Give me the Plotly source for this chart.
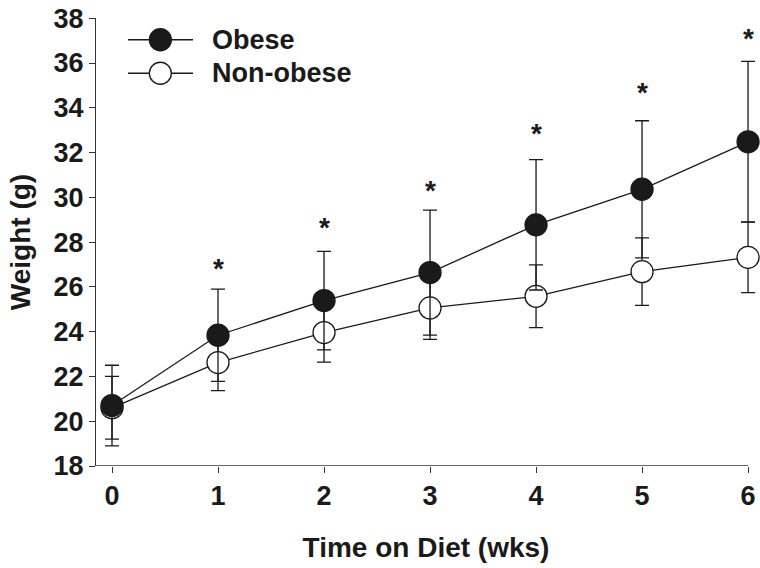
import plotly.graph_objects as go

weeks = [0, 1, 2, 3, 4, 5, 6]
obese_mean = [20.7, 23.84, 25.39, 26.64, 28.77, 30.36, 32.48]
obese_sd = [1.8, 2.06, 2.2, 2.79, 2.91, 3.06, 3.59]
nonobese_mean = [20.6, 22.62, 23.96, 25.06, 25.58, 26.68, 27.32]
nonobese_sd = [1.4, 1.25, 1.32, 1.4, 1.4, 1.51, 1.58]
star_weeks = [1, 2, 3, 4, 5, 6]
star_y = [26.87, 28.68, 30.36, 32.88, 34.73, 37.16]
y_ticks = [18, 20, 22, 24, 26, 28, 30, 32, 34, 36, 38]
series_names = ["Obese", "Non-obese"]

FONT = "Liberation Sans, Arial, sans-serif"
BLACK = "#1a1a1a"

fig = go.Figure()

# Non-obese first (drawn beneath), then obese on top
fig.add_trace(go.Scatter(
    x=weeks, y=nonobese_mean, mode="lines+markers", name=series_names[1],
    line=dict(color=BLACK, width=1.3),
    marker=dict(symbol="circle", size=22, color="white", line=dict(color=BLACK, width=1.3)),
    error_y=dict(type="data", array=nonobese_sd, symmetric=True, color=BLACK, thickness=1.3, width=7),
    cliponaxis=False, showlegend=False,
))
fig.add_trace(go.Scatter(
    x=weeks, y=obese_mean, mode="lines+markers", name=series_names[0],
    line=dict(color=BLACK, width=1.3),
    marker=dict(symbol="circle", size=22, color=BLACK, line=dict(color=BLACK, width=1.3)),
    error_y=dict(type="data", array=obese_sd, symmetric=True, color=BLACK, thickness=1.3, width=7),
    cliponaxis=False, showlegend=False,
))

# Significance asterisks
for xw, yv in zip(star_weeks, star_y):
    fig.add_annotation(x=xw, y=yv, xref="x", yref="y", text="*", showarrow=False,
                       font=dict(family=FONT, size=28, color=BLACK, weight="bold"),
                       yanchor="middle", xanchor="center", yshift=-1)

# Manual legend on an overlay axis (0..1 coordinates over the plot area)
legend_rows = [0.9515, 0.8767]
legend_fill = [BLACK, "white"]
for name, ly, fill in zip(series_names, legend_rows, legend_fill):
    fig.add_trace(go.Scatter(
        x=[0.0485, 0.147], y=[ly, ly], mode="lines", xaxis="x2", yaxis="y2",
        line=dict(color=BLACK, width=1.3), showlegend=False, hoverinfo="skip"))
    fig.add_trace(go.Scatter(
        x=[0.0975], y=[ly], mode="markers", xaxis="x2", yaxis="y2",
        marker=dict(symbol="circle", size=22, color=fill, line=dict(color=BLACK, width=1.3)),
        showlegend=False, hoverinfo="skip", cliponaxis=False))
    fig.add_annotation(x=0.1727, y=ly, xref="x2", yref="y2", text=name, showarrow=False,
                       xanchor="left", yanchor="middle",
                       font=dict(family=FONT, size=27, color=BLACK, weight="bold"))

# x-axis line drawn as a shape so it ends at week 6
fig.add_shape(type="line", xref="x", yref="y", x0=-0.151, x1=6, y0=18, y1=18,
              line=dict(color="#333333", width=1.3), layer="below")

fig.update_layout(
    width=760, height=568,
    margin=dict(l=96, r=4, t=12, b=102),
    plot_bgcolor="white", paper_bgcolor="white",
    font=dict(family=FONT, color=BLACK),
    xaxis=dict(
        range=[-0.151, 6.075], tickvals=weeks, ticks="outside", ticklen=6,
        tickwidth=1.2, tickcolor="#333333", showline=False, showgrid=False, zeroline=False,
        tickfont=dict(family=FONT, size=27, color=BLACK, weight="bold"),
        title=dict(text="Time on Diet (wks)", standoff=26,
                   font=dict(family=FONT, size=28, color=BLACK, weight="bold")),
    ),
    yaxis=dict(
        range=[18, 38.01], tickvals=y_ticks, ticks="outside", ticklen=6,
        tickwidth=1.2, tickcolor="#333333", showline=True, linecolor="#333333", linewidth=1.3,
        showgrid=False, zeroline=False, ticklabeloverflow="allow",
        tickfont=dict(family=FONT, size=27, color=BLACK, weight="bold"),
        title=dict(text="Weight (g)", standoff=14,
                   font=dict(family=FONT, size=28, color=BLACK, weight="bold")),
    ),
    xaxis2=dict(overlaying="x", range=[0, 1], visible=False, fixedrange=True),
    yaxis2=dict(overlaying="y", range=[0, 1], visible=False, fixedrange=True),
    showlegend=False,
)

fig.write_html("out.html", config={"displayModeBar": False},
               post_script="document.body.style.margin='0px';")
